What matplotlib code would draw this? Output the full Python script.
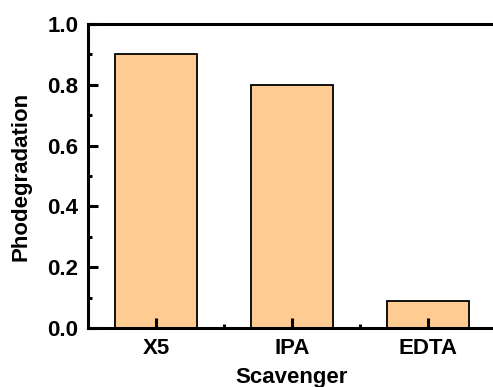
import matplotlib
matplotlib.use("Agg")
import matplotlib.pyplot as plt
from matplotlib.ticker import MultipleLocator, FixedLocator

categories = ["X5", "IPA", "EDTA"]
values = [0.90, 0.80, 0.09]
yticks = [0.0, 0.2, 0.4, 0.6, 0.8, 1.0]

plt.rcParams["font.family"] = ["Liberation Sans", "DejaVu Sans"]
plt.rcParams["font.weight"] = "bold"

W, H = 493, 387
fig = plt.figure(figsize=(W / 100, H / 100), dpi=100)
ax = fig.add_axes([88 / W, (H - 328) / H, (496 - 88) / W, (328 - 24) / H])
ax.set_axisbelow(False)

x = list(range(len(categories)))
ax.bar(x, values, width=0.6, color="#FECC92", edgecolor="black", linewidth=1.3, zorder=2)

ax.set_xlim(-0.5, len(categories) - 0.5)
ax.set_ylim(0, 1.0)
ax.set_xticks(x)
ax.set_xticklabels(categories)
ax.xaxis.set_minor_locator(FixedLocator([0.5, 1.5]))
ax.set_yticks(yticks)
ax.set_yticklabels([f"{v:.1f}" for v in yticks])
ax.yaxis.set_minor_locator(MultipleLocator(0.1))

for s in ax.spines.values():
    s.set_linewidth(2.2)

ax.tick_params(which="major", direction="in", length=7, width=2.2, labelsize=16, pad=7)
ax.tick_params(which="minor", direction="in", length=3, width=2.2)
ax.tick_params(axis="x", which="both", top=False)
ax.tick_params(axis="y", which="both", right=False)

ax.set_xlabel("Scavenger", fontsize=16, fontweight="bold", labelpad=6)
ax.set_ylabel("Phodegradation", fontsize=16, fontweight="bold", labelpad=11)

fig.savefig("out.png", dpi=100)
